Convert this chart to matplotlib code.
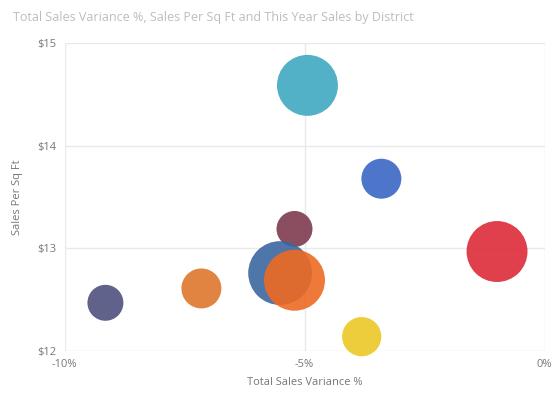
import matplotlib
matplotlib.use("Agg")
import matplotlib.pyplot as plt
from matplotlib.ticker import FuncFormatter

# district data
districts = ["FD-01", "FD-02", "FD-03", "FD-04", "LI-01", "LI-02", "LI-03", "LI-04", "LI-05"]
variance_pct = [-4.94, -3.40, -0.99, -5.21, -5.51, -5.21, -7.15, -9.15, -3.81]
sales_per_sqft = [14.59, 13.68, 12.97, 13.19, 12.76, 12.69, 12.61, 12.47, 12.14]
this_year_sales = [9.3, 4.0, 9.3, 3.24, 10.2, 9.3, 4.0, 3.24, 3.85]
colors = ["#3FA9C0", "#3A66C4", "#DD2A38", "#7E3B4F", "#3C67A0",
          "#EE6A22", "#DE772D", "#4F5180", "#ECC827"]

plt.rcParams['font.family'] = ['Open Sans', 'DejaVu Sans']

fig = plt.figure(figsize=(5.6, 4.0), dpi=100)
ax = fig.add_axes([0.1154, 0.1225, 0.857, 0.7692])

sizes = [v * 207 for v in this_year_sales]
ax.scatter(variance_pct, sales_per_sqft, s=sizes, c=colors, alpha=0.9,
           linewidths=0, zorder=3, clip_on=False)

ax.set_xlim(-10, 0)
ax.set_ylim(12, 15)
ax.set_xticks([-10, -5, 0])
ax.set_yticks([12, 13, 14, 15])
ax.xaxis.set_major_formatter(FuncFormatter(lambda v, p: f"{v:.0f}%".replace("-0%", "0%")))
ax.yaxis.set_major_formatter(FuncFormatter(lambda v, p: f"${v:.0f}"))

ax.grid(True, color="#E9E9E9", linewidth=1, zorder=0)
for s in ax.spines.values():
    s.set_visible(False)
ax.tick_params(length=0, labelsize=8, colors="#777777", pad=6)

ax.set_xlabel("Total Sales Variance %", fontsize=8, color="#777777", labelpad=5)
ax.set_ylabel("Sales Per Sq Ft", fontsize=8, color="#777777", labelpad=10)

fig.text(13 / 560, 1 - 18 / 400, "Total Sales Variance %, Sales Per Sq Ft and This Year Sales by District",
         fontsize=9, color="#BDBDBD", va="center", ha="left")

fig.savefig("out.png", dpi=100)
